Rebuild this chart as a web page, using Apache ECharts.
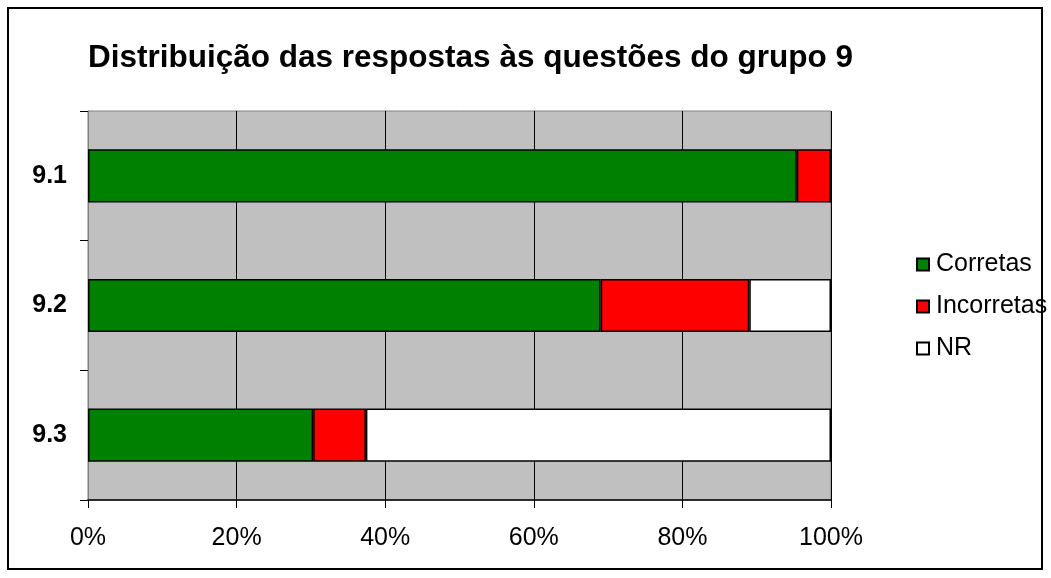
<!DOCTYPE html>
<html>
<head>
<meta charset="utf-8">
<script src="https://cdn.jsdelivr.net/npm/echarts@6/dist/echarts.min.js"></script>
<style>
  html, body { margin: 0; padding: 0; background: #fff; }
  #frame { position: absolute; left: 7px; top: 7px; width: 1036px; height: 563px; border: 2px solid #000; box-sizing: border-box; }
  #chart { position: absolute; left: 0; top: 0; width: 1051px; height: 578px; }
</style>
</head>
<body>
<div id="frame"></div>
<div id="chart"></div>
<script>
// categorias e percentagens
const QUESTOES = ["9.1", "9.2", "9.3"];
const CORRETAS = [95.4, 69.0, 30.3];
const INCORRETAS = [4.6, 20.0, 7.1];
const NR = [0, 11.0, 62.6];
const X_TICKS = [0, 20, 40, 60, 80, 100];

const chart = echarts.init(document.getElementById("chart"));

const barStyle = (color) => ({ color, borderColor: "#000", borderWidth: 1.5 });

chart.setOption({
  animation: false,
  textStyle: { fontFamily: "Liberation Sans, Arial, sans-serif" },
  title: {
    text: "Distribuição das respostas às questões do grupo 9",
    left: 83,
    top: 37,
    textStyle: { fontSize: 31.5, fontWeight: "bold", color: "#000" },
  },
  legend: {
    orient: "vertical",
    left: 911,
    top: 247,
    itemWidth: 12,
    itemHeight: 12,
    itemGap: 17,
    icon: "rect",
    textStyle: { fontSize: 25, color: "#000", padding: [0, 0, 0, 2] },
    data: ["Corretas", "Incorretas", "NR"],
  },
  grid: {
    left: 88, right: 220, top: 111, bottom: 78,
    show: true, backgroundColor: "#c0c0c0", borderColor: "#808080", borderWidth: 1,
  },
  xAxis: {
    type: "value",
    min: X_TICKS[0],
    max: X_TICKS[X_TICKS.length - 1],
    interval: 20,
    axisLabel: { formatter: "{value}%", fontSize: 25, color: "#000", margin: 26 },
    axisLine: { show: true, lineStyle: { color: "#000", width: 1.5 } },
    axisTick: { show: true, length: 8, lineStyle: { color: "#000" } },
    splitLine: { show: true, lineStyle: { color: "#000", width: 1 } },
  },
  yAxis: {
    type: "category",
    inverse: true,
    data: QUESTOES,
    axisLabel: { fontSize: 25, fontWeight: "bold", color: "#000", margin: 21, padding: [4, 0, 0, 0] },
    axisLine: { show: true, lineStyle: { color: "#808080" } },
    axisTick: { show: true, length: 8, alignWithLabel: false, lineStyle: { color: "#000" } },
    splitLine: { show: false },
  },
  series: [
    { name: "Corretas", type: "bar", stack: "t", data: CORRETAS, barWidth: "41%", itemStyle: barStyle("#008000") },
    { name: "Incorretas", type: "bar", stack: "t", data: INCORRETAS, barWidth: "41%", itemStyle: barStyle("#ff0000") },
    { name: "NR", type: "bar", stack: "t", data: NR, barWidth: "41%", itemStyle: barStyle("#ffffff") },
  ],
});
</script>
</body>
</html>
